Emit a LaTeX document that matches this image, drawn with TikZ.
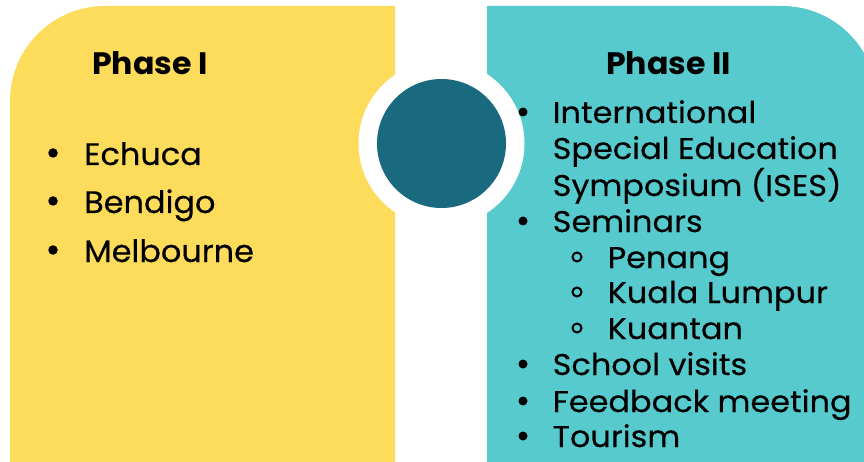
\documentclass[tikz,border=0pt]{standalone}
\usepackage{fontspec}
\setmainfont{Poppins}
\newfontfamily\leftfont[FakeStretch=1.03,FakeBold=0.35]{Poppins}
\newfontfamily\rightfont[FakeStretch=1.065,FakeBold=0.35]{Poppins}
\newfontfamily\titlefont[FakeStretch=1.02]{Poppins Bold}
\definecolor{phaseyellow}{HTML}{FDDB5B}
\definecolor{phaseteal}{HTML}{56CACD}
\definecolor{hubteal}{HTML}{1A6A7F}
\tikzset{
  lefttext/.style={anchor=base west,inner sep=0pt,font=\leftfont\fontsize{31}{31}\selectfont},
  righttext/.style={anchor=base west,inner sep=0pt,font=\rightfont\fontsize{30}{30}\selectfont},
  titletext/.style={anchor=base west,inner sep=0pt,font=\titlefont\fontsize{31}{31}\selectfont},
  dotbullet/.style={circle,fill=black,inner sep=0pt,minimum size=9.5pt},
  ringbullet/.style={circle,draw=black,line width=2pt,inner sep=0pt,minimum size=9pt},
}
\begin{document}
\begin{tikzpicture}[x=1pt,y=1pt]
\useasboundingbox (0,0) rectangle (864,461);
\clip (0,0) rectangle (864,461);
% panels
\fill[phaseyellow] (10,-5) -- (10,360) arc[start angle=180,end angle=90,radius=95pt] -- (395,455) -- (395,-5) -- cycle;
\fill[phaseteal] (487,-5) -- (487,455) -- (782,455) arc[start angle=90,end angle=0,radius=95pt] -- (877,-5) -- cycle;
% hub
\fill[white] (441.5,317.5) circle[radius=83pt];
\node[circle,fill=hubteal,inner sep=0pt,minimum size=129pt] (hub) at (441.5,317.5) {};
% Phase I
\node[titletext] (t1) at (92,386) {Phase I};
\node[lefttext] (e1) at (84,296) {Echuca};
\node[lefttext] (e2) at (84,248) {Bendigo};
\node[lefttext] (e3) at (84,199) {Melbourne};
\node[dotbullet] (b1) at (53,308) {};
\node[dotbullet] (b2) at (53,260) {};
\node[dotbullet] (b3) at (53,211) {};
% Phase II
\node[titletext] (t2) at (606,386) {Phase II};
\node[righttext] (r1) at (552.5,338) {International};
\node[righttext] (r1b) at (552.5,302) {Special Education};
\node[righttext] (r1c) at (552.5,265) {Symposium (ISES)};
\node[righttext] (r2) at (552.5,229) {Seminars};
\node[righttext] (s1) at (607.5,193) {Penang};
\node[righttext] (s2) at (607.5,158) {Kuala Lumpur};
\node[righttext] (s3) at (607.5,122) {Kuantan};
\node[righttext] (r3) at (552.5,86) {School visits};
\node[righttext] (r4) at (552.5,49) {Feedback meeting};
\node[righttext] (r5) at (552.5,14) {Tourism};
\foreach \n/\y in {c1/338,c2/229,c3/86,c4/49,c5/14}
  \node[dotbullet,minimum size=9pt] (\n) at (523,\y+11) {};
\foreach \n/\y in {h1/193,h2/158,h3/122}
  \node[ringbullet] (\n) at (577,\y+11) {};
\end{tikzpicture}
\end{document}
